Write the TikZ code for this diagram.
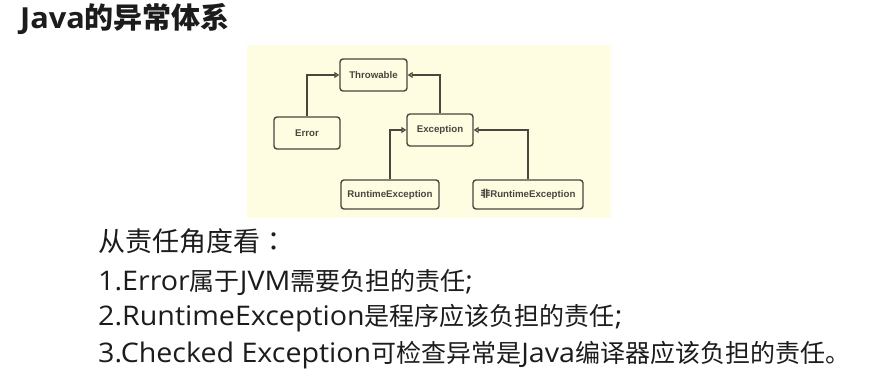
\documentclass[tikz,border=0pt]{standalone}
\usepackage{fontspec}
\setmainfont{Open Sans}[FakeStretch=1.06]
\newfontfamily\cjk{Noto Sans CJK SC}
\newfontfamily\cjktc{Noto Sans CJK TC}
\newfontfamily\boxfont{Liberation Sans}
\usetikzlibrary{arrows.meta}

% CJK run at a given size (default 25pt)
\newcommand\hz[2][25]{{\cjk\fontsize{#1}{#1}\selectfont #2}}
% Latin run at a given size
\newcommand\lat[2][27]{{\fontsize{#1}{#1}\selectfont #2}}

\definecolor{panelbg}{HTML}{FEFDE2}
\definecolor{umlline}{HTML}{4A463E}
\definecolor{bodytext}{HTML}{1C1C1C}

\tikzset{
  umlbox/.style={draw=umlline, line width=1.4pt, rounded corners=3pt,
    fill=panelbg, text=umlline, inner sep=0pt,
    font=\boxfont\bfseries\fontsize{9.7}{10}\selectfont},
  inherit/.style={draw=umlline, line width=1.4pt,
    -{Triangle[open, length=5pt, width=6pt, line width=1.2pt]}},
  textline/.style={anchor=base west, inner sep=0pt, text=bodytext}
}

\begin{document}
\begin{tikzpicture}[x=1pt, y=-1pt]
  \useasboundingbox[fill=white] (0,0) rectangle (869,378);

  % title
  \node[textline, font=\bfseries] (title) at (20,28) {\lat[29]{Java}\hz[29]{的异常体系}};

  % class hierarchy panel
  \fill[panelbg] (247,45) rectangle (611,218);

  \node[umlbox, minimum width=67pt, minimum height=32pt] (thr) at (373.5,75) {Throwable};
  \node[umlbox, minimum width=66pt, minimum height=32pt] (err) at (307,133) {Error};
  \node[umlbox, minimum width=66pt, minimum height=32pt] (exc) at (440,130) {Exception};
  \node[umlbox, minimum width=98pt, minimum height=29pt] (rte) at (390,194.5) {RuntimeException};
  \node[umlbox, minimum width=110pt, minimum height=29pt] (chk) at (528,194.5)
    {{\cjk\bfseries 非}RuntimeException};

  \draw[inherit] (err.north) |- (thr.west);
  \draw[inherit] (exc.north) |- (thr.east);
  \draw[inherit] (rte.north) |- (exc.west);
  \draw[inherit] (chk.north) |- (exc.east);

  % explanation lines
  \node[textline] (l1) at (98,251)
    {\hz[27]{从责任角度看}{\cjktc\fontsize{27}{27}\selectfont ：}};
  \node[textline] (l2) at (98,290) {\lat{1.Error}\hz{属于}\lat{JVM}\hz{需要负担的责任}\lat{;}};
  \node[textline] (l3) at (98,325) {\lat{2.RuntimeException}\hz{是程序应该负担的责任}\lat{;}};
  \node[textline] (l4) at (98,362) {\lat{3.Checked Exception}\hz{可检查异常是}\lat{Java}\hz{编译器应该负担的责任。}};
\end{tikzpicture}
\end{document}
